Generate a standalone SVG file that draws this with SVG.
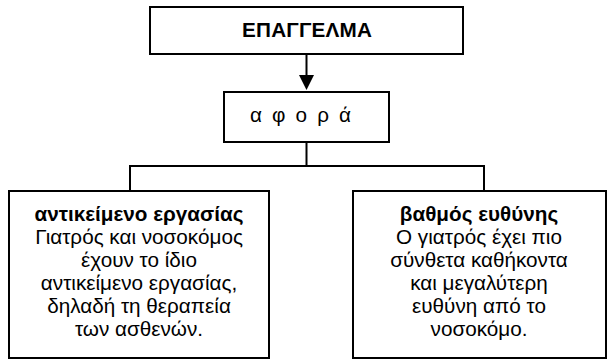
<svg xmlns="http://www.w3.org/2000/svg" width="607" height="359" viewBox="0 0 607 359">
<style>
.box{fill:#fff;stroke:#000;stroke-width:2}
.conn{stroke:#000;stroke-width:2;fill:none}
text{font-family:"Liberation Sans",Arial,sans-serif;font-size:20.7px;fill:#000}
.b{font-weight:bold}
.c{text-anchor:middle}
</style>
<rect width="607" height="359" fill="#fff"/>
<g id="connectors">
<line class="conn" x1="306.5" y1="54" x2="306.5" y2="77"/>
<polygon points="299,75 314,75 306.5,90" fill="#000"/>
<polyline class="conn" points="306.5,142 306.5,166"/>
<polyline class="conn" points="130,191 130,166 484,166 484,191"/>
</g>
<g id="node-epaggelma">
<rect class="box" x="150" y="7" width="313" height="47"/>
<text class="b" x="242" y="37" textLength="130" lengthAdjust="spacing">ΕΠΑΓΓΕΛΜΑ</text>
</g>
<g id="node-afora">
<rect class="box" x="224" y="92" width="165" height="50"/>
<text x="250" y="121.5" textLength="101" lengthAdjust="spacing">α φ ο ρ ά</text>
</g>
<g id="node-antikeimeno">
<rect class="box" x="9" y="191" width="260" height="167"/>
<text class="c b" x="139" y="221">αντικείμενο εργασίας</text>
<text class="c" x="139" y="244">Γιατρός και νοσοκόμος</text>
<text class="c" x="139" y="267">έχουν το ίδιο</text>
<text class="c" x="139" y="290">αντικείμενο εργασίας,</text>
<text class="c" x="139" y="313">δηλαδή τη θεραπεία</text>
<text class="c" x="139" y="336">των ασθενών.</text>
</g>
<g id="node-vathmos">
<rect class="box" x="353" y="191" width="253" height="167"/>
<text class="c b" x="479" y="221">βαθμός ευθύνης</text>
<text class="c" x="479" y="244">Ο γιατρός έχει πιο</text>
<text class="c" x="479" y="267">σύνθετα καθήκοντα</text>
<text class="c" x="479" y="290">και μεγαλύτερη</text>
<text class="c" x="479" y="313">ευθύνη από το</text>
<text class="c" x="479" y="336">νοσοκόμο.</text>
</g>
</svg>
